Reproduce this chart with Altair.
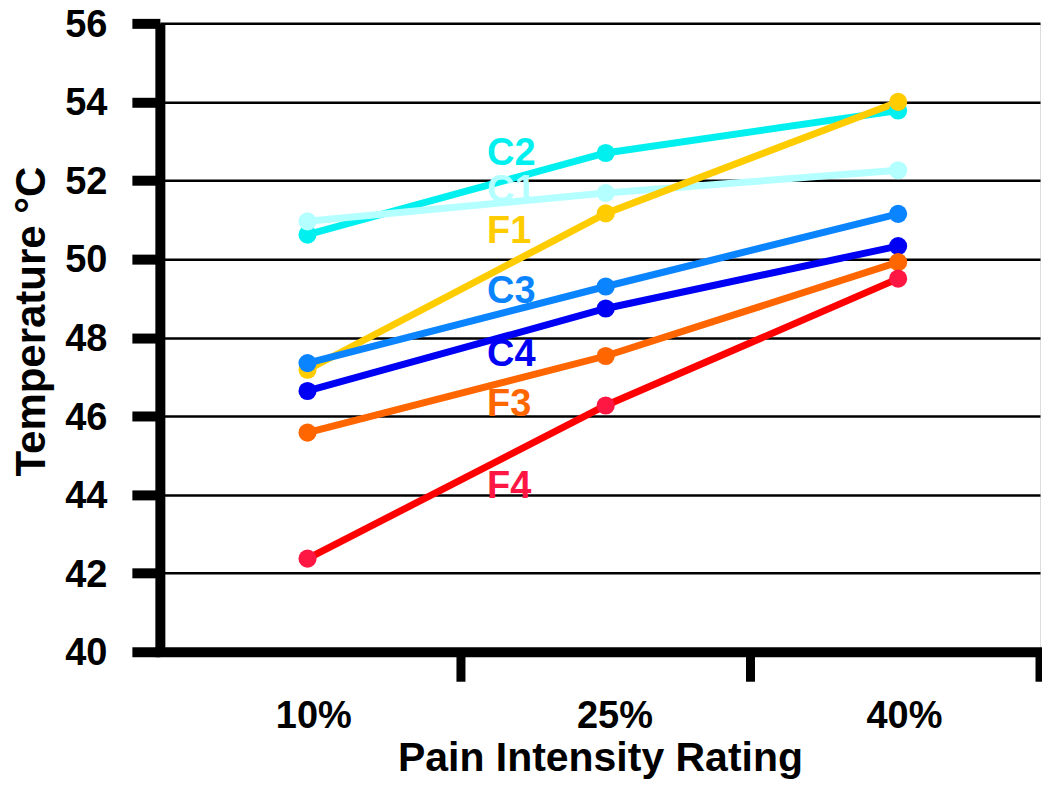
import altair as alt
import pandas as pd

# ---- data ----
series = ["C2", "C1", "F1", "C3", "C4", "F3", "F4"]
ratings = ["10%", "25%", "40%"]
rating_pos = [0.47, 1.5, 2.51]      # category centres on the x scale
rating_label_pos = [0.49, 1.53, 2.53]
x_tick_pos = [1, 2, 3]
y_ticks = [40, 42, 44, 46, 48, 50, 52, 54, 56]

c2 = [50.62, 52.70, 53.78]
c1 = [50.96, 51.68, 52.26]
f1 = [47.18, 51.16, 54.00]
c3 = [47.35, 49.30, 51.15]
c4 = [46.64, 48.74, 50.33]
f3 = [45.58, 47.53, 49.92]
f4 = [42.37, 46.27, 49.50]
values = [c2, c1, f1, c3, c4, f3, f4]

label_x = 1.09
label_temp = [52.68, 51.74, 50.68, 49.17, 47.55, 46.29, 44.19]

line_colors = ["#00F0F0", "#B4FFFF", "#FFCC00", "#0A84FF", "#0000F5", "#FF6600", "#FF0000"]
point_colors = ["#00F0F0", "#B4FFFF", "#FFCC00", "#0A84FF", "#0000F5", "#FF6600", "#FF1744"]
text_colors = ["#00F0F0", "#B4FFFF", "#FFCC00", "#0A84FF", "#0000F5", "#FF6600", "#FF1744"]

# ---- tables ----
rows = []
for s, vals in zip(series, values):
    for r, xp, v in zip(ratings, rating_pos, vals):
        rows.append({"series": s, "rating": r, "x": xp, "temp": v})
df = pd.DataFrame(rows)
labels_df = pd.DataFrame({"series": series, "x": [label_x] * len(series), "temp": label_temp})
ticks_df = pd.DataFrame({"t": x_tick_pos})

FONT = "Liberation Sans"
W, H = 881, 629

label_expr = " : ".join(
    f"datum.value < {p + 0.01} ? '{r}'" for p, r in zip(rating_label_pos[:-1], ratings[:-1])
) + f" : '{ratings[-1]}'"

xscale = alt.Scale(domain=[-0.04, 3.0], nice=False, zero=False)
yscale = alt.Scale(domain=[40, 56], nice=False, zero=False)

x_axis = alt.Axis(
    values=rating_label_pos, labelExpr=label_expr, ticks=False, grid=False,
    domainColor="black", domainWidth=10, domainCap="square",
    labelFont=FONT, labelFontSize=38, labelFontWeight="bold", labelColor="black",
    labelPadding=76, labelBaseline="alphabetic", labelFlush=False, labelOverlap=False,
    title="Pain Intensity Rating", titleFont=FONT, titleFontSize=41, titleFontWeight="bold",
    titleColor="black", titleY=119, titleBaseline="alphabetic",
)
y_axis = alt.Axis(
    values=y_ticks, format="d", grid=True, gridColor="black", gridWidth=2.5, gridOpacity=1,
    domainColor="black", domainWidth=10, tickColor="black", tickWidth=10, tickSize=28,
    labelFont=FONT, labelFontSize=38, labelFontWeight="bold", labelColor="black",
    labelPadding=25, labelOffset=2,
    title="Temperature °C", titleFont=FONT, titleFontSize=42, titleFontWeight="bold",
    titleColor="black", titleX=-115, titleY=298, titleBaseline="alphabetic",
)

base = alt.Chart(df)

lines = base.mark_line(strokeWidth=7).encode(
    x=alt.X("x:Q", scale=xscale, axis=x_axis),
    y=alt.Y("temp:Q", scale=yscale, axis=y_axis),
    color=alt.Color("series:N", scale=alt.Scale(domain=series, range=line_colors), legend=None),
    order=alt.Order("x:Q"),
)

points = base.mark_circle(size=330, opacity=1).encode(
    x=alt.X("x:Q", scale=xscale),
    y=alt.Y("temp:Q", scale=yscale),
    color=alt.Color("series:N", scale=alt.Scale(domain=series, range=point_colors), legend=None),
)

texts = alt.Chart(labels_df).mark_text(
    align="left", baseline="middle", font=FONT, fontSize=38, fontWeight="bold"
).encode(
    x=alt.X("x:Q", scale=xscale),
    y=alt.Y("temp:Q", scale=yscale),
    text="series:N",
    color=alt.Color("series:N", scale=alt.Scale(domain=series, range=text_colors), legend=None),
)

xticks = alt.Chart(ticks_df).mark_rule(color="black", strokeWidth=9).encode(
    x=alt.X("t:Q", scale=xscale),
    y=alt.value(H),
    y2=alt.value(H + 30),
)

chart = alt.layer(lines, points, texts, xticks).resolve_scale(
    color="independent"
).properties(
    width=W, height=H,
    autosize=alt.AutoSizeParams(type="none"),
    padding={"left": 152, "top": 15, "right": 2, "bottom": 128},
).configure_view(stroke=None).configure(background="white")

chart.save("out.html", embed_options={"renderer": "svg", "actions": False})
